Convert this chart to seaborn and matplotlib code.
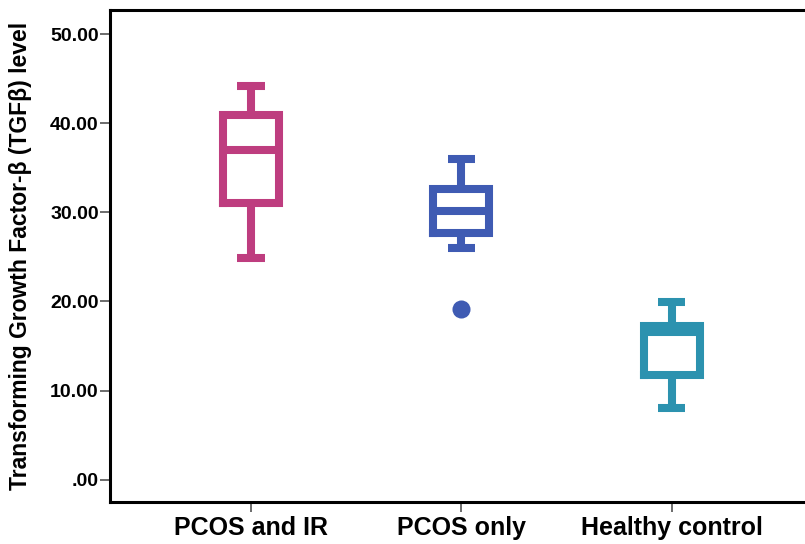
import matplotlib
matplotlib.use("Agg")
import matplotlib.pyplot as plt
import numpy as np
import pandas as pd
import seaborn as sns

# values (enough points to reproduce each box)
groups = ["PCOS and IR", "PCOS only", "Healthy control"]
pcos_ir = [24.9, 31.0, 37.0, 40.9, 44.2]
pcos_only = [19.1, 26.0, 27.7, 27.7, 30.1, 32.6, 32.6, 36.0, 36.0]
healthy = [8.1, 11.8, 16.6, 17.3, 19.9]
colors = ["#BE3D7F", "#3F5BB3", "#2C92AF"]
yticks = [0, 10, 20, 30, 40, 50]
ytick_labels = [".00", "10.00", "20.00", "30.00", "40.00", "50.00"]

df = pd.DataFrame({
    "group": [groups[0]] * len(pcos_ir) + [groups[1]] * len(pcos_only) + [groups[2]] * len(healthy),
    "value": pcos_ir + pcos_only + healthy,
})

sns.set_style("white")
plt.rcParams["font.family"] = ["Liberation Sans", "DejaVu Sans"]

fig = plt.figure(figsize=(8.05, 5.44), dpi=100)
ax = fig.add_axes([0.1366, 0.0772, 0.873, 0.9044])

butt = dict(solid_capstyle="butt")
sns.boxplot(
    data=df, x="group", y="value", hue="group", order=groups, hue_order=groups,
    palette=colors, fill=False, width=0.265, linewidth=5.8, whis=1.5,
    capwidths=0.13, legend=False, ax=ax,
    boxprops=dict(solid_joinstyle="miter", solid_capstyle="projecting"),
    whiskerprops=butt, capprops=butt, medianprops=butt,
    flierprops=dict(marker="o", markersize=9),
)
for ln in ax.lines:
    if ln.get_marker() == "o":
        ln.set_markerfacecolor(ln.get_markeredgecolor())
        ln.set_markeredgewidth(0)
        ln.set_markersize(13)

ax.set_xlim(-0.67, 2.67)
ax.set_ylim(-2.5, 52.7)
ax.set_yticks(yticks)
ax.set_yticklabels(ytick_labels, fontsize=14, fontweight="bold", color="black")
ax.tick_params(axis="x", bottom=True, labelsize=18, length=7, width=1.1, color="#444444", pad=3)
ax.tick_params(axis="y", left=True, length=7, width=1.1, color="#444444", pad=1)
for lab in ax.get_xticklabels():
    lab.set_fontweight("bold")
    lab.set_color("black")
ax.set_xlabel("")
ax.set_ylabel("Transforming Growth Factor-β (TGFβ) level", fontsize=16.5,
              fontweight="bold", color="black", labelpad=13)
for side in ["left", "bottom", "top", "right"]:
    ax.spines[side].set_linewidth(2.2)
    ax.spines[side].set_color("black")

fig.savefig("out.png", dpi=100)
